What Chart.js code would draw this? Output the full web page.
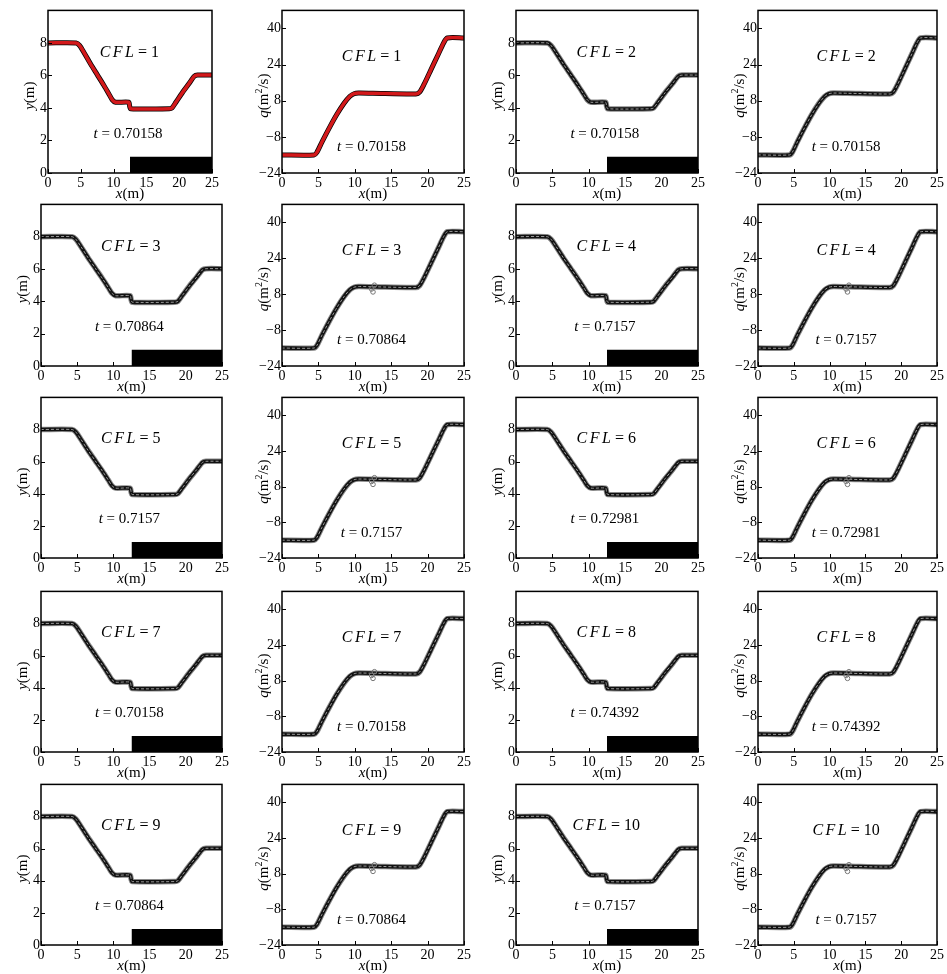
<!DOCTYPE html>
<html>
<head>
<meta charset="utf-8">
<script src="https://cdn.jsdelivr.net/npm/chart.js@4.4.1/dist/chart.umd.min.js"></script>
<style>
  body { margin: 0; background: #fff; }
  #grid { position: relative; width: 947px; height: 974px; overflow: hidden; }
  .panel { position: absolute; }
</style>
</head>
<body>
<div id="grid"></div>
<script>
// valores
const cflValues = [1, 2, 3, 4, 5, 6, 7, 8, 9, 10];
const timeLabels = ["0.70158", "0.70158", "0.70864", "0.7157", "0.7157",
                    "0.72981", "0.70158", "0.74392", "0.70864", "0.7157"];

const xTicks = [0, 5, 10, 15, 20, 25];
const depthTicks = [0, 2, 4, 6, 8];
const flowTicks = [-24, -8, 8, 24, 40];

// profundidad y(m)
const depthX = [0, 4.3, 4.8, 5.5, 6.5, 7.5, 8.5, 9.3, 9.8, 10.3, 12.3, 12.45, 12.6, 18.5, 18.9, 19.5, 20.5, 21.5, 22.3, 22.8, 25];
const depthY = [8.0, 8.0, 7.85, 7.4, 6.7, 6.05, 5.4, 4.85, 4.5, 4.35, 4.35, 4.1, 3.95, 3.95, 4.0, 4.35, 4.95, 5.5, 5.95, 6.02, 6.02];

// caudal q(m2/s)
const flowX = [0, 4.4, 4.8, 5.5, 6.5, 7.5, 8.5, 9.3, 9.9, 10.5, 12.5, 18.4, 18.9, 19.5, 20.5, 21.5, 22.2, 22.7, 25];
const flowQ = [-16, -16, -14.8, -10.2, -4, 1.8, 6.8, 9.9, 11.1, 11.4, 11.3, 11.0, 11.8, 15.2, 22.0, 28.8, 33.6, 35.8, 35.8];

// oscilacion numerica junto al escalon
const blipX = [12.3, 12.5, 12.7];
const blipQ = [10.3, 9.0, 12.0];

// escalon del fondo
const bedX = [12.5, 25];
const bedY = [1, 1];

// geometria de la grilla (area de trazado de cada panel)
const rowTop = [9, 203, 396, 590, 783];
const rowBottom = [173, 366, 558, 752, 945];
const colLeft = [41, 282, 516, 758];
const colRight = [222, 464, 698, 937];
const PAD_L = 46, PAD_T = 8, PAD_R = 14, PAD_B = 32;

const SERIF = '"Liberation Serif", "DejaVu Serif", serif';
const RED = "#d3191b";

function pts(xs, ys) {
  return xs.map((x, i) => ({ x: x, y: ys[i] }));
}

// dibuja trozos de texto con fuentes distintas, centrado en (cx, cy)
function drawRuns(ctx, runs, cx, cy) {
  let total = 0;
  runs.forEach(r => {
    ctx.font = r.font;
    r.w = ctx.measureText(r.text).width + (r.gap || 0);
    total += r.w;
  });
  let x = cx - total / 2;
  ctx.textAlign = "left";
  ctx.textBaseline = "middle";
  runs.forEach(r => {
    ctx.font = r.font;
    ctx.fillText(r.text, x, cy + (r.dy || 0));
    x += r.w;
  });
}

const decor = {
  id: "decor",
  afterDraw(chart) {
    const o = chart.options.plugins.decor;
    const ctx = chart.ctx;
    const a = chart.chartArea;
    const xs = chart.scales.x, ys = chart.scales.y;
    ctx.save();
    ctx.fillStyle = "#000";
    ctx.strokeStyle = "#000";

    // marcas hacia adentro
    ctx.lineWidth = 1;
    ctx.beginPath();
    xTicks.forEach(v => {
      const px = Math.round(xs.getPixelForValue(v)) + 0.5;
      ctx.moveTo(px, a.bottom);
      ctx.lineTo(px, a.bottom - 4);
    });
    o.ticks.forEach(v => {
      const py = Math.round(ys.getPixelForValue(v)) + 0.5;
      ctx.moveTo(a.left, py);
      ctx.lineTo(a.left + 4, py);
    });
    ctx.stroke();

    // marco
    ctx.lineWidth = 1.5;
    ctx.strokeRect(a.left, a.top, a.right - a.left, a.bottom - a.top);

    // titulos de ejes
    const it15 = "italic 15px " + SERIF, rm15 = "15px " + SERIF;
    drawRuns(ctx, [{ text: "x", font: it15 }, { text: "(m)", font: rm15 }],
      (a.left + a.right) / 2, a.bottom + 21);
    ctx.save();
    ctx.translate(a.left - 18, (a.top + a.bottom) / 2 + 4);
    ctx.rotate(-Math.PI / 2);
    if (o.kind === "depth") {
      drawRuns(ctx, [{ text: "y", font: it15 }, { text: "(m)", font: rm15 }], 0, 0);
    } else {
      drawRuns(ctx, [
        { text: "q", font: it15 },
        { text: "(m", font: rm15 },
        { text: "2", font: "10px " + SERIF, dy: -5 },
        { text: "/s)", font: rm15 }
      ], 0, 0);
    }
    ctx.restore();

    // anotaciones CFL y t
    const it16 = "italic 16px " + SERIF;
    drawRuns(ctx, [
      { text: "C", font: it16, gap: 2.5 },
      { text: "F", font: it16, gap: 2.5 },
      { text: "L", font: it16 },
      { text: " = " + o.cfl, font: "16px " + SERIF }
    ], xs.getPixelForValue(o.cflAt[0]), ys.getPixelForValue(o.cflAt[1]));
    drawRuns(ctx, [
      { text: "t", font: it15 },
      { text: " = " + o.time, font: rm15 }
    ], xs.getPixelForValue(o.tAt[0]), ys.getPixelForValue(o.tAt[1]));
    ctx.restore();
  }
};

function makeDatasets(kind, cfl) {
  const ds = [];
  const line = kind === "depth" ? pts(depthX, depthY) : pts(flowX, flowQ);
  const base = { pointRadius: 0, tension: 0.25, fill: false };
  if (cfl === 1) {
    ds.push(Object.assign({ data: line, borderColor: RED, borderWidth: 3.5 }, base));
    ds.push(Object.assign({ data: line, borderColor: "#000", borderWidth: 5 }, base));
  } else {
    if (kind === "flow" && cfl >= 3) {
      ds.push({ data: pts(blipX, blipQ), showLine: false, pointRadius: 2.3, borderWidth: 1,
        borderColor: "#777", backgroundColor: "rgba(0,0,0,0)" });
    }
    ds.push(Object.assign({ data: line, borderColor: "#9a9a9a", borderWidth: 1, borderDash: [3, 2] }, base));
    ds.push(Object.assign({ data: line, borderColor: "#111", borderWidth: 3.6 }, base));
    ds.push(Object.assign({ data: line, borderColor: "#8a8a8a", borderWidth: 5.5 }, base));
  }
  if (kind === "depth") {
    ds.push({ data: pts(bedX, bedY), fill: "origin", backgroundColor: "#000",
      borderWidth: 0, pointRadius: 0 });
  }
  return ds;
}

const grid = document.getElementById("grid");

for (let r = 0; r < 5; r++) {
  for (let c = 0; c < 4; c++) {
    const kind = c % 2 === 0 ? "depth" : "flow";
    const idx = 2 * r + (c < 2 ? 0 : 1);
    const cfl = cflValues[idx];
    const left = (r === 0 && c === 0) ? 48 : colLeft[c];
    const right = (r === 0 && c === 0) ? 212 : colRight[c];
    const top = rowTop[r], bottom = rowBottom[r];

    const w = right - left + PAD_L + PAD_R;
    const h = bottom - top + PAD_T + PAD_B;
    const div = document.createElement("div");
    div.className = "panel";
    div.style.left = (left - PAD_L) + "px";
    div.style.top = (top - PAD_T) + "px";
    const canvas = document.createElement("canvas");
    canvas.width = w;
    canvas.height = h;
    div.appendChild(canvas);
    grid.appendChild(div);

    const yTicks = kind === "depth" ? depthTicks : flowTicks;
    const tickFont = { family: SERIF, size: 14 };

    new Chart(canvas, {
      type: "line",
      data: { datasets: makeDatasets(kind, cfl) },
      options: {
        responsive: false,
        devicePixelRatio: 1,
        animation: false,
        events: [],
        layout: { padding: { top: PAD_T, right: PAD_R, left: 0, bottom: 0 } },
        plugins: {
          legend: { display: false },
          tooltip: { enabled: false },
          decor: {
            kind: kind,
            ticks: yTicks,
            cfl: cfl,
            time: timeLabels[idx],
            cflAt: kind === "depth" ? [12.4, 7.4] : [12.3, 27.3],
            tAt: kind === "depth" ? [12.2, 2.4] : [12.3, -12.6]
          }
        },
        scales: {
          x: {
            type: "linear",
            min: 0,
            max: 25,
            afterBuildTicks: s => { s.ticks = xTicks.map(v => ({ value: v })); },
            afterFit: s => { s.height = PAD_B; },
            grid: { display: false, drawTicks: false },
            border: { display: false },
            ticks: { font: tickFont, color: "#000", padding: 2, maxRotation: 0, autoSkip: false }
          },
          y: {
            type: "linear",
            min: kind === "depth" ? 0 : -24,
            max: kind === "depth" ? 10 : 48,
            afterBuildTicks: s => { s.ticks = yTicks.map(v => ({ value: v })); },
            afterFit: s => { s.width = PAD_L; },
            grid: { display: false, drawTicks: false },
            border: { display: false },
            ticks: {
              font: tickFont, color: "#000", padding: 1, autoSkip: false,
              callback: v => String(v).replace("-", "\u2212")
            }
          }
        }
      },
      plugins: [decor]
    });
  }
}
</script>
</body>
</html>
